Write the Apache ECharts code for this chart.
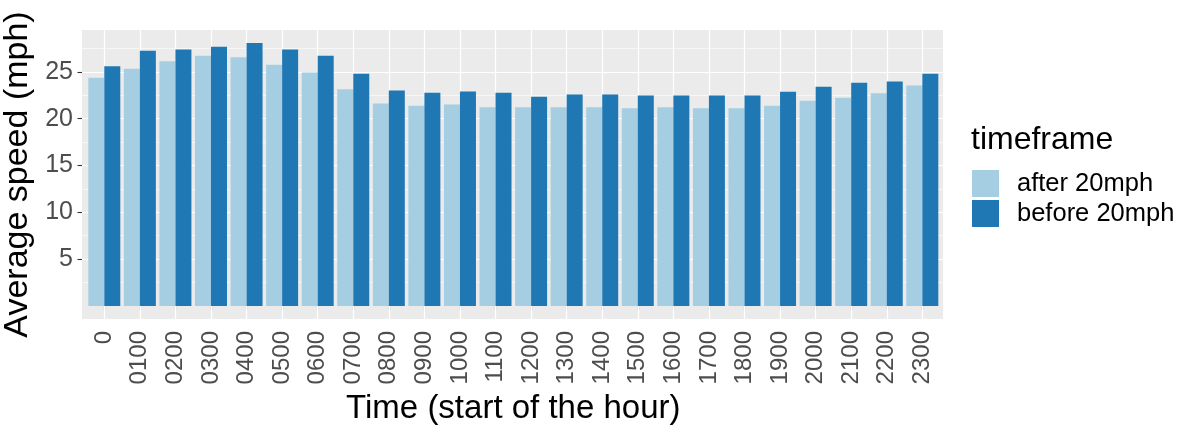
<!DOCTYPE html>
<html>
<head>
<meta charset="utf-8">
<script src="https://cdn.jsdelivr.net/npm/echarts@6/dist/echarts.min.js"></script>
<style>
html,body{margin:0;padding:0;background:#fff;}
#chart{width:1186px;height:427px;}
</style>
</head>
<body>
<div id="chart"></div>
<script>
// ---- data ----
var categories = ['0','0100','0200','0300','0400','0500','0600','0700','0800','0900','1000','1100',
                  '1200','1300','1400','1500','1600','1700','1800','1900','2000','2100','2200','2300'];
var afterValues = [24.36, 25.32, 26.14, 26.71, 26.57, 25.75, 24.93, 23.15, 21.62, 21.37, 21.51, 21.23,
                   21.23, 21.23, 21.23, 21.12, 21.23, 21.12, 21.12, 21.37, 21.90, 22.22, 22.72, 23.54];
var beforeValues = [25.61, 27.25, 27.39, 27.67, 28.07, 27.39, 26.71, 24.79, 23.01, 22.76, 22.90, 22.76,
                    22.33, 22.58, 22.58, 22.48, 22.48, 22.48, 22.48, 22.87, 23.40, 23.83, 23.97, 24.79];
var seriesNames = ['after 20mph', 'before 20mph'];
var yBreaks = [5, 10, 15, 20, 25];
var yMinorBreaks = [2.5, 7.5, 12.5, 17.5, 22.5, 27.5];
var yLimits = [-1.4, 29.47];

// ---- chart ----
var FONT = "'Liberation Sans', Arial, sans-serif";
var chart = echarts.init(document.getElementById('chart'), null, {renderer: 'canvas'});

var gridTop = 30, gridHeight = 289;

var option = {
  animation: false,
  backgroundColor: '#ffffff',
  textStyle: {fontFamily: FONT},
  title: {
    text: 'timeframe',
    left: 971,
    top: 124,
    padding: 0,
    textStyle: {fontFamily: FONT, fontSize: 32, fontWeight: 'normal', color: '#000000'}
  },
  legend: {
    data: seriesNames,
    orient: 'vertical',
    left: 972,
    top: 170,
    padding: 0,
    itemWidth: 27,
    itemHeight: 27,
    itemGap: 3,
    icon: 'rect',
    selectedMode: false,
    textStyle: {fontFamily: FONT, fontSize: 25.5, color: '#000000', padding: [0, 0, 0, 13]}
  },
  grid: [
    {left: 82, top: gridTop, width: 861, height: gridHeight, show: true,
     backgroundColor: '#EBEBEB', borderWidth: 0, outerBoundsMode: 'none', containLabel: false},
    {left: 86.5, top: gridTop, width: 853.6, height: gridHeight, show: false,
     outerBoundsMode: 'none', containLabel: false}
  ],
  xAxis: [
    {gridIndex: 0, type: 'value', min: 0, max: 1, show: false},
    {
      gridIndex: 1, type: 'category', data: categories, boundaryGap: true,
      axisLine: {show: false},
      axisTick: {show: true, alignWithLabel: true, length: 4.5, lineStyle: {color: '#333333', width: 1.1}},
      axisLabel: {rotate: 90, margin: 12, fontFamily: FONT, fontSize: 24, color: '#4D4D4D', interval: 0},
      splitLine: {show: false},
      name: 'Time (start of the hour)',
      nameLocation: 'middle',
      nameGap: 72,
      nameTextStyle: {fontFamily: FONT, fontSize: 33, color: '#000000'}
    }
  ],
  yAxis: [
    {
      gridIndex: 0, type: 'value', min: yLimits[0], max: yLimits[1],
      axisLine: {show: false},
      axisTick: {show: true, customValues: yBreaks, length: 4.5, lineStyle: {color: '#333333', width: 1.1}},
      axisLabel: {customValues: yBreaks, margin: 9, fontFamily: FONT, fontSize: 25, color: '#4D4D4D'},
      splitLine: {show: false},
      minorSplitLine: {show: false},
      name: 'Average speed (mph)',
      nameLocation: 'middle',
      nameRotate: 90,
      nameGap: 33,
      nameTextStyle: {fontFamily: FONT, fontSize: 34, color: '#000000'}
    },
    {gridIndex: 1, type: 'value', min: yLimits[0], max: yLimits[1], show: false}
  ],
  series: [
    {
      name: 'hgrid', type: 'line', xAxisIndex: 0, yAxisIndex: 0, data: [], silent: true,
      markLine: {
        silent: true, symbol: 'none', z: 1, animation: false,
        label: {show: false}, emphasis: {disabled: true},
        data: yMinorBreaks.map(function (v) { return {yAxis: v, lineStyle: {color: '#ffffff', width: 0.6, type: 'solid'}}; })
          .concat(yBreaks.map(function (v) { return {yAxis: v, lineStyle: {color: '#ffffff', width: 1.2, type: 'solid'}}; }))
      }
    },
    {
      name: 'vgrid', type: 'line', xAxisIndex: 1, yAxisIndex: 1, data: [], silent: true,
      markLine: {
        silent: true, symbol: 'none', z: 1, animation: false,
        label: {show: false}, emphasis: {disabled: true},
        data: categories.map(function (c) { return {xAxis: c, lineStyle: {color: '#ffffff', width: 1.2, type: 'solid'}}; })
      }
    },
    {
      name: seriesNames[0], type: 'bar', xAxisIndex: 1, yAxisIndex: 1,
      data: afterValues, barGap: '0%', barCategoryGap: '10%', z: 3,
      itemStyle: {color: '#A6CEE3'}, silent: true
    },
    {
      name: seriesNames[1], type: 'bar', xAxisIndex: 1, yAxisIndex: 1,
      data: beforeValues, barGap: '0%', barCategoryGap: '10%', z: 3,
      itemStyle: {color: '#1F78B4'}, silent: true
    }
  ]
};
chart.setOption(option);
</script>
</body>
</html>
